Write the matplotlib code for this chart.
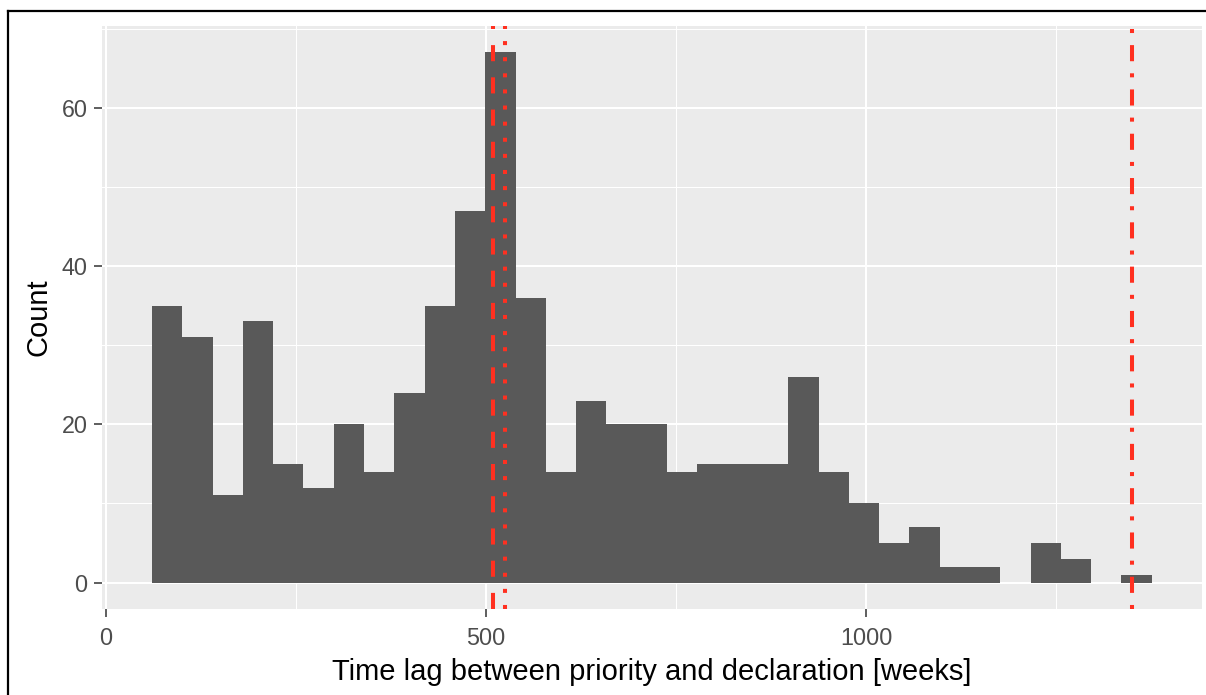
import numpy as np
import matplotlib
matplotlib.use("Agg")
import matplotlib.pyplot as plt
from matplotlib.lines import Line2D
from matplotlib.ticker import MultipleLocator

# histogram counts (33 bins)
bin_start = 60.5
bin_width = 39.86
counts = [35, 31, 11, 33, 15, 12, 20, 14, 24, 35, 47, 67, 36, 14, 23, 20, 20,
          14, 15, 15, 15, 26, 14, 10, 5, 7, 2, 2, 0, 5, 3, 0, 1]

# reference lines
median_lag = 509.6
mean_lag = 525.4
cutoff_lag = 1350.4

plt.rcParams['font.family'] = ['Liberation Sans', 'DejaVu Sans']

fig = plt.figure(figsize=(12.06, 6.95), dpi=100)
ax = fig.add_axes([102 / 1206, 1 - 609 / 695, 1100 / 1206, 583 / 695])
ax.set_facecolor('#EBEBEB')

edges = bin_start + bin_width * np.arange(len(counts))
ax.bar(edges, counts, width=bin_width, align='edge', color='#595959',
       linewidth=0, zorder=2)

red = '#FF3020'
ax.axvline(median_lag, color=red, lw=2.9, ls=(0, (4, 4)), dash_capstyle='butt', zorder=3)
ax.axvline(mean_lag, color=red, lw=2.9, ls=(0, (1, 3)), dash_capstyle='butt', zorder=3)
ax.axvline(cutoff_lag, color=red, lw=2.9, ls=(0, (1, 3, 4, 3)), dash_capstyle='butt', zorder=3)

ax.set_xlim(-5.3, 1442)
ax.set_ylim(-3.35, 70.35)
ax.xaxis.set_major_locator(MultipleLocator(500))
ax.xaxis.set_minor_locator(MultipleLocator(250))
ax.yaxis.set_major_locator(MultipleLocator(20))
ax.yaxis.set_minor_locator(MultipleLocator(10))

ax.set_axisbelow(True)
ax.grid(which='major', color='white', lw=1.45)
ax.grid(which='minor', color='white', lw=0.75)
for s in ax.spines.values():
    s.set_visible(False)

ax.tick_params(which='major', length=5.8, width=1.1, color='#333333',
               labelsize=16.8, labelcolor='#4D4D4D', pad=4.5)
ax.tick_params(axis='x', which='major', pad=7)
ax.tick_params(which='minor', length=0)

ax.set_xlabel("Time lag between priority and declaration [weeks]", fontsize=21)
ax.xaxis.label.set_va('baseline')
ax.xaxis.set_label_coords(0.5, (609 - 680) / 583)
ax.set_ylabel("Count", fontsize=21)
ax.yaxis.label.set_va('center')
ax.yaxis.set_label_coords((38 - 102) / 1100, 0.5)

# frame around the picture
fig.add_artist(Line2D([8 / 1206, 1], [1 - 11 / 695, 1 - 11 / 695], color='black', lw=1.6,
                      transform=fig.transFigure))
fig.add_artist(Line2D([8 / 1206, 8 / 1206], [0, 1 - 11 / 695], color='black', lw=1.6,
                      transform=fig.transFigure))

fig.savefig("out.png", dpi=100)
